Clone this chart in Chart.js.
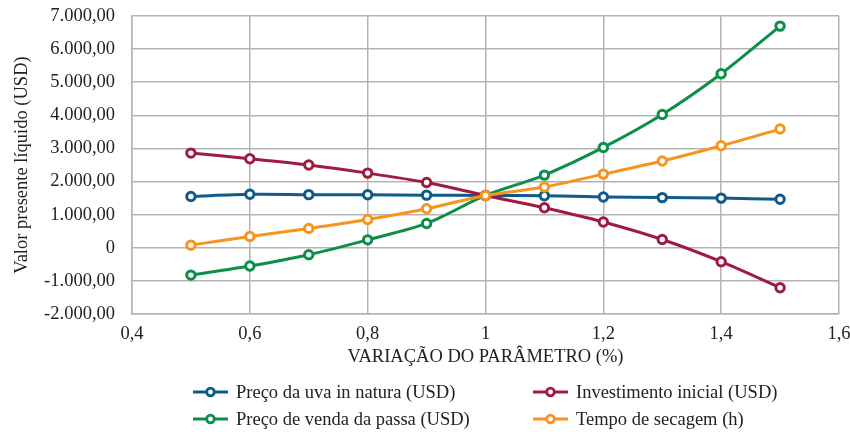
<!DOCTYPE html>
<html>
<head>
<meta charset="utf-8">
<script src="https://cdn.jsdelivr.net/npm/chart.js@4"></script>
<style>
  html, body { margin: 0; padding: 0; background: #fff; }
  #wrap { width: 850px; height: 432px; }
</style>
</head>
<body>
<div id="wrap"><canvas id="c" width="850" height="432"></canvas></div>
<script>
// Parameter variation factors (x axis)
const variacao = [0.5, 0.6, 0.7, 0.8, 0.9, 1.0, 1.1, 1.2, 1.3, 1.4, 1.5];

// Net present value (USD) for each varied parameter
const precoUva      = [1550, 1615, 1605, 1600, 1590, 1580, 1570, 1535, 1515, 1500, 1465];
const investimento  = [2860, 2690, 2500, 2255, 1970, 1580, 1210, 780, 250, -420, -1205];
const precoPassa    = [-825, -550, -210, 240, 735, 1580, 2195, 3030, 4025, 5255, 6695];
const tempoSecagem  = [80, 340, 585, 855, 1180, 1580, 1835, 2225, 2620, 3080, 3585];

const seriesNames = [
  'Preço da uva in natura (USD)',
  'Investimento inicial (USD)',
  'Preço de venda da passa (USD)',
  'Tempo de secagem (h)'
];
const seriesColors = ['#0e5a8a', '#a01b40', '#0b8f47', '#f7941e'];

const FONT = "'Liberation Serif', 'Times New Roman', serif";
const FS = 18.5;
const GRID = '#b3b3b3';
const TEXT = '#222222';

function toPoints(ys) { return ys.map((y, i) => ({ x: variacao[i], y })); }

function fmtThousands(v) {
  if (v === 0) return '0';
  const neg = v < 0;
  const abs = Math.abs(v);
  const intPart = Math.floor(abs).toString().replace(/\B(?=(\d{3})+(?!\d))/g, '.');
  return (neg ? '-' : '') + intPart + ',00';
}

function makeDataset(i, values, order) {
  return {
    label: seriesNames[i],
    data: toPoints(values),
    borderColor: seriesColors[i],
    backgroundColor: '#ffffff',
    pointBackgroundColor: '#ffffff',
    pointBorderColor: seriesColors[i],
    borderWidth: 3,
    pointRadius: 4.2,
    pointBorderWidth: 3,
    pointHoverRadius: 4.2,
    tension: 0.3,
    order: order
  };
}

// Two-column legend drawn beneath the axis title
const gridLegend = {
  id: 'gridLegend',
  afterDraw(chart) {
    const ctx = chart.ctx;
    const cols = [193, 533];
    const rows = [392, 419];
    ctx.save();
    ctx.font = FS + 'px ' + FONT;
    ctx.textBaseline = 'middle';
    ctx.textAlign = 'left';
    chart.data.datasets.forEach((ds, i) => {
      const x = cols[i % 2];
      const y = rows[Math.floor(i / 2)];
      ctx.strokeStyle = ds.borderColor;
      ctx.lineWidth = 3;
      ctx.beginPath();
      ctx.moveTo(x, y);
      ctx.lineTo(x + 35, y);
      ctx.stroke();
      ctx.beginPath();
      ctx.arc(x + 17.5, y, 3.8, 0, Math.PI * 2);
      ctx.fillStyle = '#ffffff';
      ctx.fill();
      ctx.lineWidth = 2.8;
      ctx.stroke();
      ctx.fillStyle = TEXT;
      ctx.fillText(ds.label, x + 43, y + 1);
    });
    ctx.restore();
  }
};

new Chart(document.getElementById('c'), {
  type: 'line',
  data: {
    datasets: [
      makeDataset(0, precoUva, 3),
      makeDataset(1, investimento, 2),
      makeDataset(2, precoPassa, 1),
      makeDataset(3, tempoSecagem, 0)
    ]
  },
  options: {
    responsive: false,
    animation: false,
    layout: { padding: { top: 0, right: 0, bottom: 64, left: 0 } },
    plugins: {
      legend: { display: false },
      tooltip: { enabled: false }
    },
    scales: {
      x: {
        type: 'linear',
        min: 0.4,
        max: 1.6,
        ticks: {
          stepSize: 0.2,
          color: TEXT,
          font: { family: FONT, size: FS },
          padding: 9,
          callback: v => (Math.round(v * 10) / 10).toString().replace('.', ',')
        },
        grid: { color: GRID, lineWidth: 1.5, drawTicks: false },
        border: { color: GRID, width: 1.5 },
        title: {
          display: true,
          text: 'VARIAÇÃO DO PARÂMETRO (%)',
          color: TEXT,
          font: { family: FONT, size: FS },
          padding: { top: 2, bottom: 0 }
        },
        afterFit: s => { s.height = 54; s.paddingRight = 11; s.paddingLeft = 0; }
      },
      y: {
        min: -2000,
        max: 7000,
        ticks: {
          stepSize: 1000,
          color: TEXT,
          font: { family: FONT, size: FS },
          padding: 17,
          callback: v => fmtThousands(v)
        },
        grid: { color: GRID, lineWidth: 1.5, drawTicks: false },
        border: { color: GRID, width: 1.5 },
        title: {
          display: true,
          text: 'Valor presente líquido (USD)',
          color: TEXT,
          font: { family: FONT, size: FS },
          padding: { top: 11, bottom: 0 }
        },
        afterFit: s => { s.width = 132; s.paddingTop = 16; }
      }
    }
  },
  plugins: [gridLegend]
});
</script>
</body>
</html>
